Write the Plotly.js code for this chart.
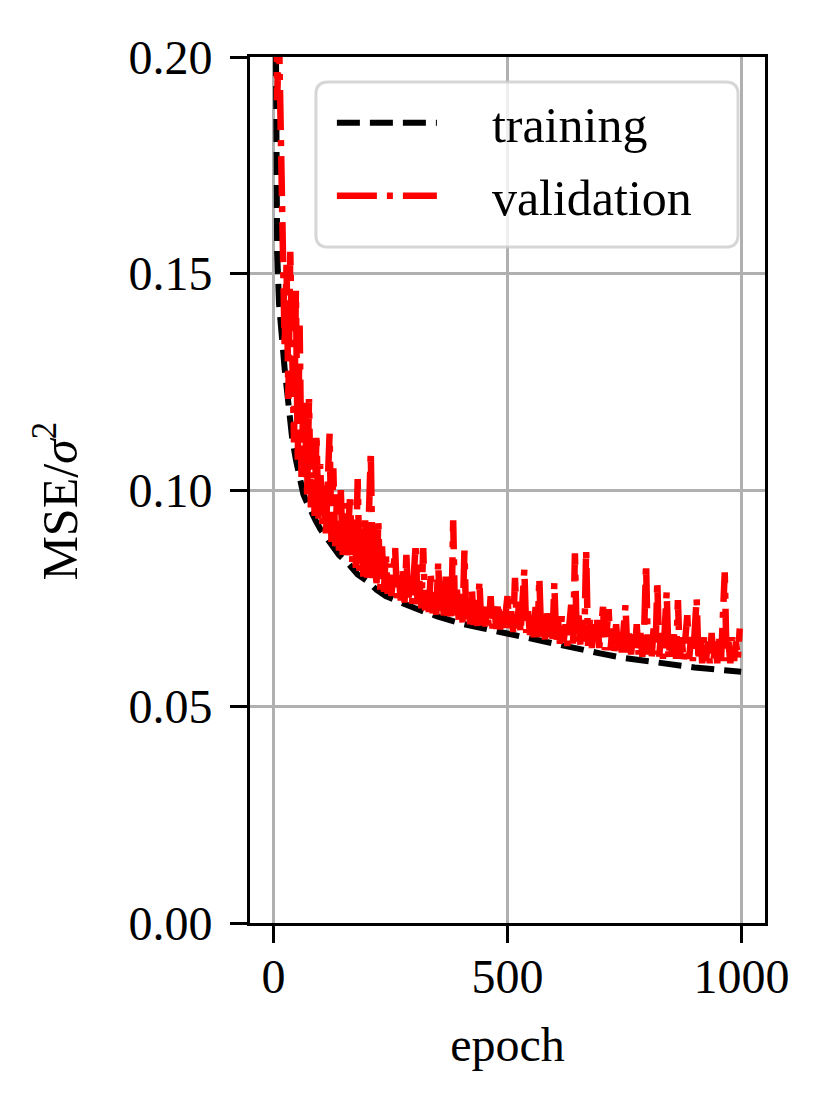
<!DOCTYPE html>
<html>
<head>
<meta charset="utf-8">
<script src="https://cdn.plot.ly/plotly-3.0.1.min.js"></script>
<style>
  html, body { margin: 0; padding: 0; background: #fff; }
  #chart { width: 833px; height: 1116px; }
</style>
</head>
<body>
<div id="chart"></div>
<script>
// training loss
var trainEpochs = [0, 4, 8, 12, 16, 20, 24, 28, 32, 36, 40, 48, 56, 64, 72, 80, 90, 100, 120, 140,
  160, 180, 200, 220, 240, 260, 280, 300, 350, 400, 450, 500, 550, 600, 650, 700, 750, 800, 850, 900, 950, 999];
var trainLoss = [0.30, 0.19, 0.155, 0.143, 0.137, 0.132, 0.128, 0.124, 0.119, 0.116, 0.112, 0.107, 0.102, 0.099,
  0.097, 0.095, 0.093, 0.091, 0.088, 0.085, 0.083, 0.0805, 0.079, 0.077, 0.0755, 0.0745, 0.0737, 0.0728, 0.0708,
  0.0692, 0.068, 0.0668, 0.0655, 0.0643, 0.0632, 0.0622, 0.0612, 0.0604, 0.0596, 0.059, 0.0585, 0.058];

// validation loss, one value every 4 epochs (0 .. 996)
var valStep = 4;
var valLoss = [
  0.33, 0.215, 0.19, 0.205, 0.172, 0.165, 0.133, 0.152, 0.121, 0.155,
  0.128, 0.111, 0.146, 0.107, 0.138, 0.103, 0.121, 0.116, 0.099, 0.121,
  0.096, 0.112, 0.094, 0.113, 0.093, 0.106, 0.092, 0.101, 0.090, 0.104,
  0.113, 0.088, 0.105, 0.087, 0.099, 0.086, 0.100, 0.085, 0.097, 0.084,
  0.094, 0.099, 0.083, 0.093, 0.082, 0.1025, 0.081, 0.091, 0.080, 0.093,
  0.0795, 0.094, 0.109, 0.079, 0.092, 0.0775, 0.093, 0.077, 0.087, 0.0765,
  0.0855, 0.076, 0.083, 0.0755, 0.081, 0.0866, 0.075, 0.080, 0.0745, 0.082,
  0.074, 0.085, 0.074, 0.080, 0.0735, 0.079, 0.0877, 0.073, 0.079, 0.0727,
  0.0866, 0.0722, 0.078, 0.0718, 0.081, 0.0715, 0.077, 0.0712, 0.0834, 0.0710,
  0.078, 0.0706, 0.080, 0.0703, 0.076, 0.070, 0.093, 0.0699, 0.077, 0.0697,
  0.076, 0.0694, 0.086, 0.0692, 0.075, 0.069, 0.077, 0.0688, 0.074, 0.0686,
  0.079, 0.0688, 0.074, 0.0685, 0.073, 0.0683, 0.0755, 0.068, 0.073, 0.0679,
  0.074, 0.0678, 0.072, 0.0675, 0.073, 0.0755, 0.0673, 0.072, 0.0672, 0.0797,
  0.068, 0.073, 0.067, 0.074, 0.0817, 0.067, 0.072, 0.0665, 0.071, 0.066,
  0.073, 0.066, 0.0797, 0.066, 0.071, 0.0655, 0.072, 0.066, 0.070, 0.065,
  0.0785, 0.065, 0.070, 0.0645, 0.071, 0.065, 0.069, 0.064, 0.070, 0.0735,
  0.0645, 0.0854, 0.065, 0.071, 0.064, 0.070, 0.065, 0.0861, 0.064, 0.070,
  0.0635, 0.069, 0.064, 0.070, 0.0635, 0.068, 0.073, 0.063, 0.068, 0.0725,
  0.063, 0.068, 0.0625, 0.069, 0.063, 0.067, 0.0625, 0.069, 0.0734, 0.0625,
  0.068, 0.062, 0.067, 0.0625, 0.069, 0.062, 0.067, 0.0615, 0.068, 0.083,
  0.062, 0.067, 0.0615, 0.068, 0.062, 0.079, 0.0615, 0.067, 0.061, 0.068,
  0.0765, 0.061, 0.066, 0.0615, 0.067, 0.061, 0.0746, 0.061, 0.066, 0.0605,
  0.067, 0.0711, 0.061, 0.066, 0.0605, 0.067, 0.075, 0.0605, 0.066, 0.060,
  0.066, 0.0605, 0.065, 0.060, 0.067, 0.0605, 0.065, 0.060, 0.066, 0.0605,
  0.070, 0.081, 0.0605, 0.065, 0.060, 0.066, 0.0605, 0.065, 0.061, 0.068
];
var valEpochs = valLoss.map(function (v, i) { return i * valStep; });

var xTicks = [0, 500, 1000];
var yTicks = [0, 0.05, 0.10, 0.15, 0.20];

var FONT = "Liberation Serif, Times New Roman, serif";
var PAD = "\u00a0\u00a0\u00a0\u00a0";

// rounded legend frame, in paper coords
function roundRect(x0, y0, x1, y1, rx, ry) {
  return "M" + (x0 + rx) + "," + y1 +
    " L" + (x1 - rx) + "," + y1 + " Q" + x1 + "," + y1 + " " + x1 + "," + (y1 - ry) +
    " L" + x1 + "," + (y0 + ry) + " Q" + x1 + "," + y0 + " " + (x1 - rx) + "," + y0 +
    " L" + (x0 + rx) + "," + y0 + " Q" + x0 + "," + y0 + " " + x0 + "," + (y0 + ry) +
    " L" + x0 + "," + (y1 - ry) + " Q" + x0 + "," + y1 + " " + (x0 + rx) + "," + y1 + " Z";
}

var traces = [
  {
    x: trainEpochs,
    y: trainLoss,
    type: "scatter",
    mode: "lines",
    name: PAD + "training",
    legendgroup: "a",
    line: { color: "#000000", width: 6, dash: "23px,10px" },
  },
  {
    x: valEpochs,
    y: valLoss,
    type: "scatter",
    mode: "lines",
    name: PAD + "validation",
    legendgroup: "b",
    line: { color: "#ff0000", width: 6.5, dash: "40px,10px,6px,10px" },
  },
];

var axisCommon = {
  showline: true,
  mirror: true,
  linecolor: "#000000",
  linewidth: 3,
  ticks: "outside",
  ticklen: 17,
  tickwidth: 3,
  tickcolor: "#000000",
  showgrid: true,
  gridcolor: "#b0b0b0",
  gridwidth: 3,
  zeroline: false,
  tickfont: { family: FONT, size: 48, color: "#000000" },
};

var layout = {
  width: 833,
  height: 1116,
  margin: { l: 250, r: 68, t: 57, b: 193 },
  paper_bgcolor: "#ffffff",
  plot_bgcolor: "#ffffff",
  font: { family: FONT, size: 48, color: "#000000" },
  showlegend: true,
  legend: {
    x: 0.159,
    y: 0.969,
    xanchor: "left",
    yanchor: "top",
    bgcolor: "rgba(0,0,0,0)",
    borderwidth: 0,
    itemwidth: 100,
    tracegroupgap: 5,
    font: { family: FONT, size: 50, color: "#000000" },
  },
  xaxis: Object.assign({}, axisCommon, {
    range: [-50, 1050],
    tickvals: xTicks,
    ticktext: xTicks.map(String),
    ticklabelstandoff: -8,
    title: { text: "epoch", font: { family: FONT, size: 48 }, standoff: 26 },
  }),
  yaxis: Object.assign({}, axisCommon, {
    range: [0, 0.2],
    tickvals: yTicks,
    ticktext: yTicks.map(function (v) { return v.toFixed(2); }),
    ticklabelstandoff: 8,
  }),
  annotations: [
    {
      text: "MSE/<i>σ</i><sup>2</sup>",
      xref: "paper",
      yref: "paper",
      x: -0.376,
      y: 0.487,
      xanchor: "center",
      yanchor: "middle",
      textangle: -90,
      showarrow: false,
      font: { family: FONT, size: 50, color: "#000000" },
    },
  ],
  shapes: [
    {
      type: "path",
      xref: "paper",
      yref: "paper",
      path: roundRect(0.128, 0.7806, 0.9476, 0.971, 0.024, 0.014),
      fillcolor: "rgba(255,255,255,0.8)",
      line: { color: "rgba(204,204,204,0.8)", width: 3 },
      layer: "above",
    },
  ],
};

Plotly.newPlot("chart", traces, layout, { displayModeBar: false, staticPlot: true });
</script>
</body>
</html>
